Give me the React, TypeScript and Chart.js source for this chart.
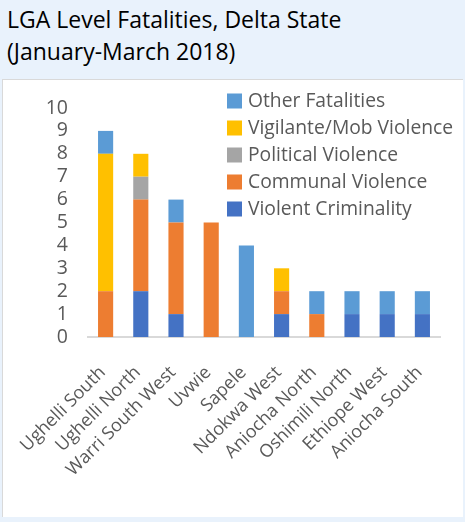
import React, { useEffect, useRef } from "react";
import { Chart, registerables } from "chart.js";

Chart.register(...registerables);

const categories = [
  "Ughelli South",
  "Ughelli North",
  "Warri South West",
  "Uvwie",
  "Sapele",
  "Ndokwa West",
  "Aniocha North",
  "Oshimili North",
  "Ethiope West",
  "Aniocha South",
];

const violentCriminality = [0, 2, 1, 0, 0, 1, 0, 1, 1, 1];
const communalViolence = [2, 4, 4, 5, 0, 1, 1, 0, 0, 0];
const politicalViolence = [0, 1, 0, 0, 0, 0, 0, 0, 0, 0];
const vigilanteMobViolence = [6, 1, 0, 0, 0, 1, 0, 0, 0, 0];
const otherFatalities = [1, 0, 1, 0, 4, 0, 1, 1, 1, 1];

const yTicks = [0, 1, 2, 3, 4, 5, 6, 7, 8, 9, 10];

const TEXT_GRAY = "#595959";
const FONT = "'Open Sans', 'Noto Sans', sans-serif";

const overlayLegend = {
  id: "overlayLegend",
  afterDraw(chart: any) {
    const ctx = chart.ctx;
    const ds = chart.data.datasets.slice().reverse();
    ctx.save();
    ctx.font = `19.3px ${FONT}`;
    ctx.textBaseline = "middle";
    ctx.textAlign = "left";
    ds.forEach((d: any, i: number) => {
      const cy = 21 + i * 27;
      ctx.fillStyle = d.backgroundColor;
      ctx.fillRect(224, cy - 7.5, 15, 15);
      ctx.fillStyle = TEXT_GRAY;
      ctx.fillText(d.label, 245, cy + 1);
    });
    ctx.restore();
  },
};

export default function App() {
  const ref = useRef<HTMLCanvasElement | null>(null);

  useEffect(() => {
    if (!ref.current) return;
    const chart = new Chart(ref.current, {
      type: "bar",
      data: {
        labels: categories,
        datasets: [
          { label: "Violent Criminality", data: violentCriminality, backgroundColor: "#4472C4" },
          { label: "Communal Violence", data: communalViolence, backgroundColor: "#ED7D31" },
          { label: "Political Violence", data: politicalViolence, backgroundColor: "#A5A5A5" },
          { label: "Vigilante/Mob Violence", data: vigilanteMobViolence, backgroundColor: "#FFC000" },
          { label: "Other Fatalities", data: otherFatalities, backgroundColor: "#5B9BD5" },
        ],
      },
      options: {
        animation: false,
        responsive: false,
        maintainAspectRatio: false,
        devicePixelRatio: 1,
        layout: { padding: { left: 0, right: 22, top: 28, bottom: 0 } },
        datasets: { bar: { barPercentage: 0.43, categoryPercentage: 1 } },
        plugins: {
          legend: { display: false },
          title: { display: false },
          tooltip: { enabled: false },
        },
        scales: {
          x: {
            stacked: true,
            grid: { display: false, drawTicks: false },
            border: { display: true, color: "#D9D9D9", width: 2 },
            ticks: {
              autoSkip: false,
              minRotation: 45,
              maxRotation: 45,
              padding: 25,
              labelOffset: -3,
              color: TEXT_GRAY,
              font: { family: FONT, size: 18 },
            },
            afterFit: (s: any) => {
              s.height = 179;
              s.paddingLeft = 0;
              s.paddingRight = 0;
            },
          },
          y: {
            stacked: true,
            min: 0,
            max: 10,
            grid: { display: false, drawTicks: false },
            border: { display: false },
            afterBuildTicks: (s: any) => {
              s.ticks = yTicks.map((v) => ({ value: v }));
            },
            ticks: {
              autoSkip: false,
              stepSize: 1,
              padding: 20,
              color: TEXT_GRAY,
              font: { family: FONT, size: 19.5 },
            },
            afterFit: (s: any) => {
              s.width = 85;
              s.paddingTop = 0;
              s.paddingBottom = 0;
            },
          },
        },
      },
      plugins: [overlayLegend],
    });
    return () => chart.destroy();
  }, []);

  return (
    <div
      style={{
        position: "fixed",
        left: 0,
        top: 0,
        width: 465,
        height: 522,
        background: "#E9F2FC",
        overflow: "hidden",
      }}
    >
      <div
        style={{
          position: "absolute",
          left: 7,
          top: 3,
          fontFamily: FONT,
          fontSize: 23,
          lineHeight: "32px",
          color: "#000",
          whiteSpace: "nowrap",
        }}
      >
        LGA Level Fatalities, Delta State
        <br />
        (January-March 2018)
      </div>
      <div
        style={{
          position: "absolute",
          left: 2,
          top: 79,
          width: 461,
          height: 438,
          boxSizing: "border-box",
          background: "#FFFFFF",
          borderLeft: "1px solid #D9D9D9",
          borderTop: "1px solid #D9D9D9",
        }}
      />
      <canvas
        ref={ref}
        width={459}
        height={436}
        style={{ position: "absolute", left: 3, top: 80, width: 459, height: 436 }}
      />
    </div>
  );
}
